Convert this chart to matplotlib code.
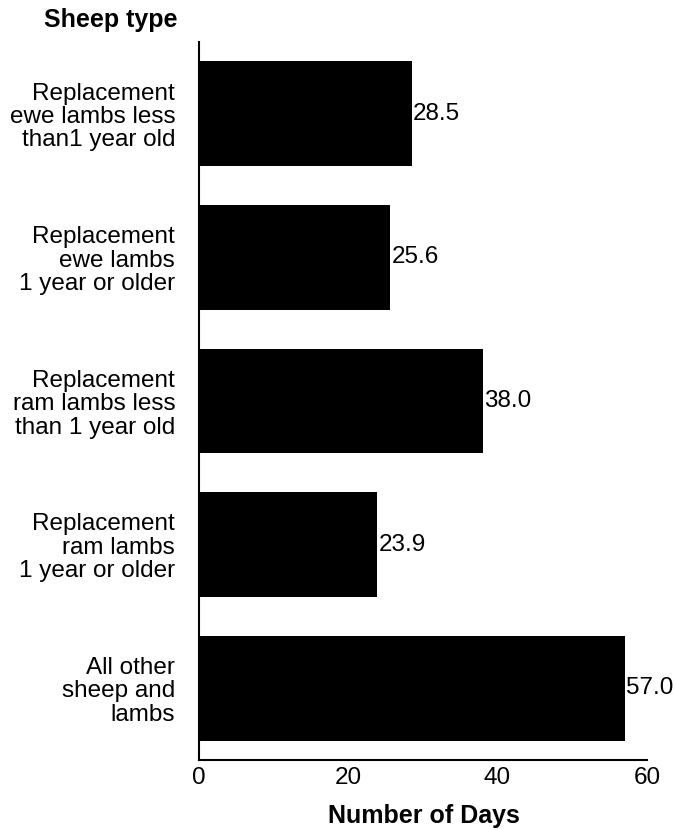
import matplotlib.pyplot as plt

plt.rcParams['font.family'] = ['Liberation Sans', 'DejaVu Sans']

sheep_types = ["Replacement\newe lambs less\nthan1 year old",
               "Replacement\newe lambs\n1 year or older",
               "Replacement\nram lambs less\nthan 1 year old",
               "Replacement\nram lambs\n1 year or older",
               "All other\nsheep and\nlambs"]
days = [28.5, 25.6, 38.0, 23.9, 57.0]

fig = plt.figure(figsize=(6.76, 8.30), dpi=100)
ax = fig.add_axes([0.294, 0.0843, 0.663, 0.8650])

pos = list(range(len(days)))
bars = ax.barh(pos, days, height=0.73, color='black')
for p, v in zip(pos, days):
    ax.text(v + 0.2, p, f"{v:.1f}", va='center', ha='left', fontsize=17.5)

ax.set_ylim(4.5, -0.5)
ax.set_xlim(0, 60)
ax.set_xticks([0, 20, 40, 60])
ax.set_yticks(pos)
ax.set_yticklabels(sheep_types, fontsize=17.5, linespacing=1.08)
ax.tick_params(axis='y', length=0, pad=17)
ax.tick_params(axis='x', length=0, pad=5, labelsize=17.5)
ax.spines['top'].set_visible(False)
ax.spines['right'].set_visible(False)
ax.spines['left'].set_linewidth(1.5)
ax.spines['bottom'].set_linewidth(1.5)

fig.text((199 + 648) / 2 / 676, 1 - 816 / 830, "Number of Days", ha='center',
         va='center', fontsize=18, fontweight='bold')
fig.text(178 / 676, 1 - 20 / 830, "Sheep type", ha='right', va='center',
         fontsize=18, fontweight='bold')

fig.savefig("out.png", dpi=100)
